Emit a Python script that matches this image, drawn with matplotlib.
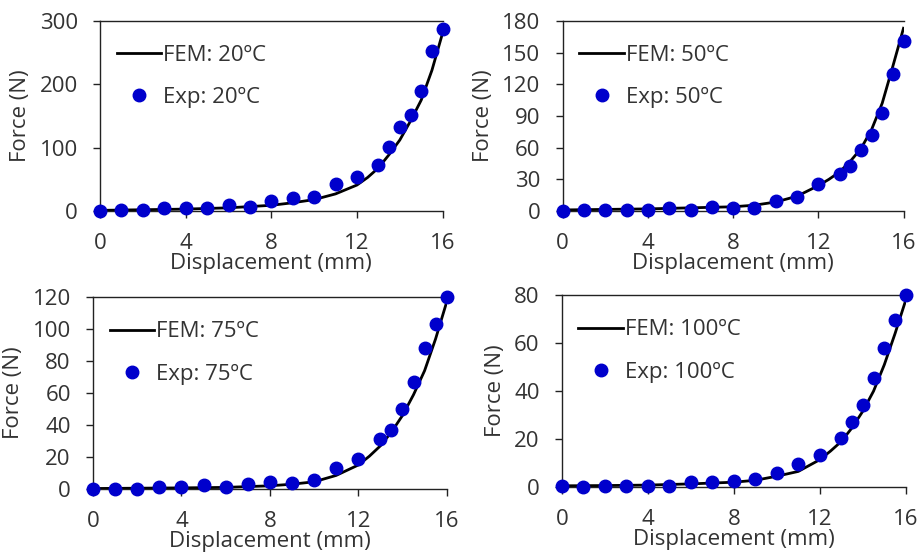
import matplotlib.pyplot as plt
import numpy as np

plt.rcParams['font.family'] = ['Open Sans', 'DejaVu Sans']
plt.rcParams['font.size'] = 16
plt.rcParams['text.color'] = '#333333'
plt.rcParams['axes.labelcolor'] = '#333333'
plt.rcParams['xtick.labelcolor'] = '#333333'
plt.rcParams['ytick.labelcolor'] = '#333333'

# experimental displacement points (mm)
exp_x = [0, 1, 2, 3, 4, 5, 6, 7, 8, 9, 10, 11, 12, 13, 13.5, 14, 14.5, 15, 15.5, 16]
# FEM curve displacement points (mm)
fem_x = [0, 2, 4, 6, 8, 9, 10, 11, 12, 12.5, 13, 13.5, 14, 14.5, 15, 15.5, 16]

exp_20 = [0, 2, 2, 5, 5, 5, 10, 7, 16, 21, 22, 42, 54, 73, 101, 132, 152, 190, 252, 287]
fem_20 = [1, 2, 3, 5, 9, 13, 18, 27, 41, 53, 68, 89, 112, 142, 175, 222, 281]

exp_50 = [0, 1, 1, 1, 1, 3, 1, 4, 3, 3, 9, 13, 26, 35, 43, 58, 72, 93, 130, 161]
fem_50 = [1, 1.5, 2, 3, 4, 5.5, 8.5, 14, 24, 30, 37, 47, 59, 77, 102, 137, 173]

exp_75 = [0, 0, 0, 1, 1, 2.5, 1, 3, 4.5, 4, 5.5, 13, 19, 31, 37, 50, 67, 88, 103, 120]
fem_75 = [0.3, 0.5, 0.7, 1, 2, 3, 4.5, 8.5, 15, 20.5, 27, 35.6, 46, 59, 74, 94, 117]

exp_100 = [0.5, 0, 0.5, 0.5, 0.5, 0.5, 2, 2, 2.5, 3.5, 6, 9.5, 13.5, 20.5, 27, 34, 45.5, 58, 69.5, 80]
fem_100 = [0.5, 0.6, 0.8, 1.3, 2, 2.8, 4.5, 6.5, 11.4, 15, 19, 24.7, 31.6, 40, 51, 64, 78]

panels = [
    ('20', exp_20, fem_20, 300, 100, [0.1086, 0.6205, 0.372, 0.342]),
    ('50', exp_50, fem_50, 180, 30, [0.611, 0.6205, 0.370, 0.342]),
    ('75', exp_75, fem_75, 120, 20, [0.101, 0.1205, 0.384, 0.345]),
    ('100', exp_100, fem_100, 80, 20, [0.610, 0.1241, 0.3735, 0.345]),
]

fig = plt.figure(figsize=(9.21, 5.56), dpi=100)

for temp, ey, fy, ymax, ystep, pos in panels:
    ax = fig.add_axes(pos)
    ax.plot(fem_x, fy, color='black', lw=2, label='FEM: ' + temp + 'ºC', zorder=2)
    ax.plot(exp_x, ey, 'o', color='#0000CC', ms=9, label='Exp: ' + temp + 'ºC',
            clip_on=False, zorder=3)
    ax.set_xlim(0, 16)
    ax.set_ylim(0, ymax)
    ax.set_xticks([0, 4, 8, 12, 16])
    ax.set_yticks(np.arange(0, ymax + 1, ystep))
    ax.spines['right'].set_visible(False)
    for s in ['left', 'bottom', 'top']:
        ax.spines[s].set_color('#222222')
        ax.spines[s].set_linewidth(1)
    ax.tick_params(length=5, width=1, color='#222222')
    ax.tick_params(axis='x', pad=11)
    ax.tick_params(axis='y', pad=11)
    ax.set_xlabel('Displacement (mm)', labelpad=-1)
    ax.set_ylabel('Force (N)', labelpad=6)
    ax.legend(loc='upper left', frameon=False, handlelength=2.0, handletextpad=0.1,
              labelspacing=0.95, borderaxespad=0.3, bbox_to_anchor=(0.003, 0.955))

fig.savefig('out.png', dpi=100)
